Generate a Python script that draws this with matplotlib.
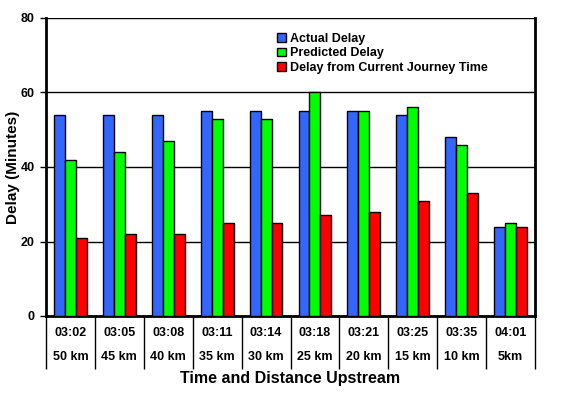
import numpy as np
import matplotlib.pyplot as plt
import matplotlib.transforms as mtransforms

plt.rcParams['font.family'] = ['Liberation Sans', 'DejaVu Sans']
plt.rcParams['font.weight'] = 'bold'

# Data
times = ["03:02", "03:05", "03:08", "03:11", "03:14", "03:18", "03:21", "03:25", "03:35", "04:01"]
distances = ["50 km", "45 km", "40 km", "35 km", "30 km", "25 km", "20 km", "15 km", "10 km", "5km"]
actual_delay = [54, 54, 54, 55, 55, 55, 55, 54, 48, 24]
predicted_delay = [42, 44, 47, 53, 53, 60, 55, 56, 46, 25]
journey_delay = [21, 22, 22, 25, 25, 27, 28, 31, 33, 24]

series = [
    ("Actual Delay", actual_delay, "#3366FF"),
    ("Predicted Delay", predicted_delay, "#00FF00"),
    ("Delay from Current Journey Time", journey_delay, "#FF0000"),
]

fig = plt.figure(figsize=(5.76, 3.94), dpi=100)
ax = fig.add_axes([46 / 576, 78 / 394, 489 / 576, 298 / 394])

x = np.arange(len(times))
w = 0.224
for i, (name, vals, col) in enumerate(series):
    ax.bar(x + (i - 1) * w, vals, w, color=col, edgecolor="black",
           linewidth=1.0, label=name, zorder=3)

ax.set_xlim(-0.5, len(times) - 0.5)
ax.set_ylim(0, 80)
ax.set_yticks([0, 20, 40, 60, 80])
ax.yaxis.grid(True, color="black", linewidth=1.0, zorder=0)
ax.tick_params(axis="y", labelsize=9, length=4, width=1, pad=4)
for lab in ax.get_yticklabels():
    lab.set_fontweight("bold")

# category separators below the axis
ax.set_xticks([])
ax.set_xticks(np.arange(len(times) + 1) - 0.5, minor=True)
ax.tick_params(axis="x", which="minor", length=38, width=1, labelbottom=False)

trans = mtransforms.blended_transform_factory(ax.transData, ax.transAxes)
for xi, t, d in zip(x, times, distances):
    ax.text(xi, -17 / 298, t, transform=trans, ha="center", va="center",
            fontsize=9, fontweight="bold")
    ax.text(xi, -41 / 298, d, transform=trans, ha="center", va="center",
            fontsize=9, fontweight="bold")

ax.text(0.5, -63 / 298, "Time and Distance Upstream", transform=ax.transAxes,
        ha="center", va="center", fontsize=11.5, fontweight="bold")
ax.text(-33 / 489, 0.5, "Delay (Minutes)", transform=ax.transAxes, rotation=90,
        ha="center", va="center", fontsize=11, fontweight="bold")

for side in ["left", "bottom", "right"]:
    ax.spines[side].set_linewidth(2)
ax.spines["top"].set_visible(False)

leg = ax.legend(loc="upper left", bbox_to_anchor=(0.463, 0.967), frameon=False,
                fontsize=9, handlelength=0.7, handleheight=0.7,
                handletextpad=0.3, labelspacing=0.2, borderaxespad=0)
for t in leg.get_texts():
    t.set_fontweight("bold")

fig.savefig("out.png", dpi=100)
